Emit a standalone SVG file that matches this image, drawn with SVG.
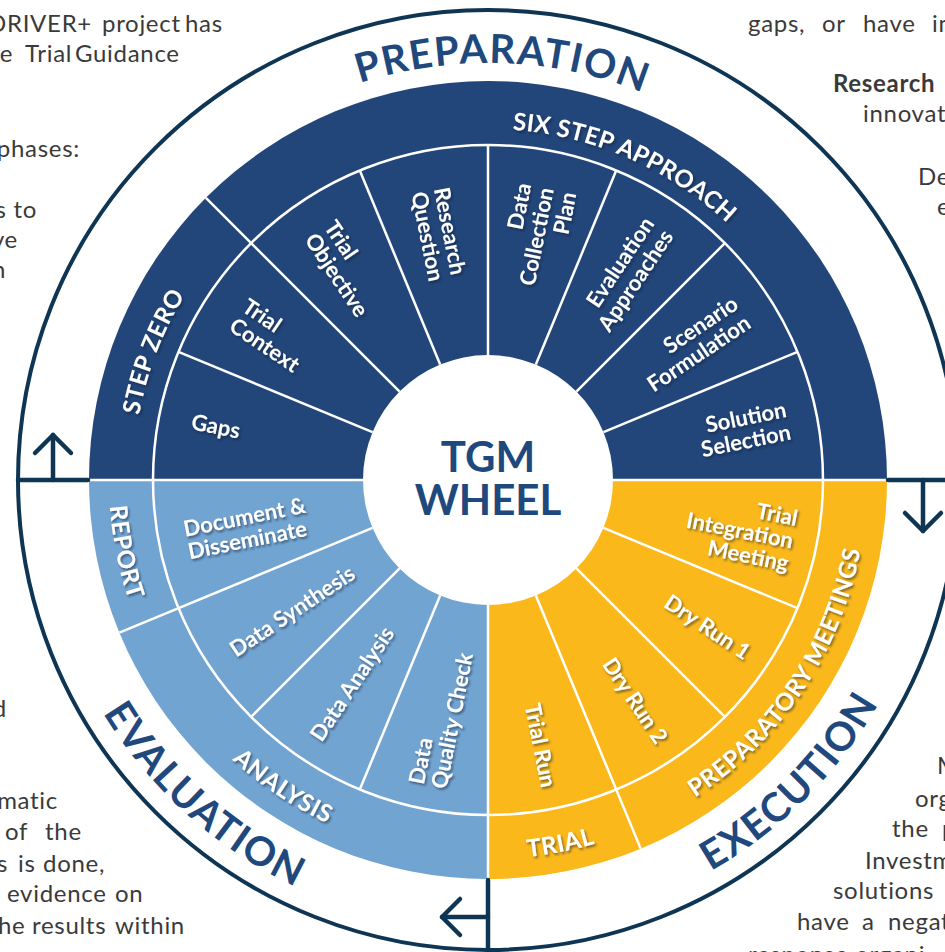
<svg xmlns="http://www.w3.org/2000/svg" width="945" height="952" viewBox="0 0 945 952">
<defs>
<style>
.body{font-family:Lato,"Liberation Sans",sans-serif;font-size:24px;fill:#3a3a3a;letter-spacing:0.7px}
.bb{font-weight:bold}
.lab{font-family:Lato,"Liberation Sans",sans-serif;font-size:22px;font-weight:bold;fill:#ffffff}
.band{font-family:Lato,"Liberation Sans",sans-serif;font-size:24px;font-weight:bold;fill:#ffffff;letter-spacing:0.6px}
.phase{font-family:Lato,"Liberation Sans",sans-serif;font-size:40px;font-weight:bold;fill:#1f497d;letter-spacing:1.5px}
.hub{font-family:Lato,"Liberation Sans",sans-serif;font-size:42px;font-weight:bold;fill:#1f497d}
.sep{stroke:#ffffff;stroke-width:2.5;fill:none}
.nav{stroke:#0e3553;stroke-width:4.5;fill:none;stroke-linecap:round;stroke-linejoin:round}
.end{text-anchor:end}
</style>
<filter id="sh" x="-30%" y="-30%" width="160%" height="160%">
<feDropShadow dx="1.5" dy="2" stdDeviation="1.3" flood-color="#0a1a30" flood-opacity="0.55"/>
</filter>
<path id="pSix" d="M 248.6 223.3 A 351 351 0 0 1 839 480"/>
<path id="pZero" d="M 133 480 A 355 355 0 0 1 224.2 242.5"/>
<path id="pTrial" d="M 488 859 A 379 379 0 0 0 633.04 830.15"/>
<path id="pPrepM" d="M 633.04 830.15 A 379 379 0 0 0 867 480"/>
<path id="pReport" d="M 109 480 A 379 379 0 0 0 137.85 625.04"/>
<path id="pAnalysis" d="M 137.85 625.04 A 379 379 0 0 0 488 859"/>
<path id="pPreparation" d="M 134.4 259 A 417 417 0 0 1 856.2 284.2"/>
<path id="pEvaluation" d="M 47.8 386.4 A 450 450 0 0 0 627.1 908"/>
<path id="pExecution" d="M 371.5 914.7 A 450 450 0 0 0 922.7 363.5"/>
</defs>

<g id="background-text" class="body">
<text y="32"><tspan x="92" class="end">DRIVER+</tspan></text>
<text y="32"><tspan x="102">project</tspan><tspan x="185">has</tspan></text>
<text y="62"><tspan x="13" class="end">e</tspan></text>
<text y="62"><tspan x="25">Trial</tspan><tspan x="75">Guidance</tspan></text>
<text x="80" y="157" class="end">phases:</text>
<text x="37" y="218" class="end">s to</text>
<text x="18" y="248" class="end">ve</text>
<text x="6" y="278" class="end">n</text>
<text x="7" y="717" class="end">d</text>
<text x="58" y="809" class="end">matic</text>
<text y="840"><tspan x="5">of</tspan><tspan x="45">the</tspan></text>
<text y="872"><tspan x="-3">s</tspan><tspan x="18">is</tspan><tspan x="43">done,</tspan></text>
<text y="902"><tspan x="7">evidence</tspan><tspan x="115">on</tspan></text>
<text y="934"><tspan x="-2">he</tspan><tspan x="32">results</tspan><tspan x="115">within</tspan></text>
<text y="32"><tspan x="748">gaps,</tspan><tspan x="822">or</tspan><tspan x="863">have</tspan><tspan x="932">in</tspan></text>
<text x="833" y="92" class="bb">Research</text>
<text x="863" y="122">innovat</text>
<text x="918" y="185">De</text>
<text x="937" y="215">e</text>
<text x="937" y="774">M</text>
<text x="915" y="807">org</text>
<text y="837"><tspan x="892">the</tspan><tspan x="942">p</tspan></text>
<text x="865" y="869">Investm</text>
<text x="833" y="899">solutions</text>
<text y="930"><tspan x="797">have</tspan><tspan x="862">a</tspan><tspan x="888">negat</tspan></text>
<text x="748" y="963">response organi</text>
</g>

<g id="outer-ring">
<circle cx="488" cy="480" r="470" fill="none" stroke="#0e3553" stroke-width="4"/>
</g>

<g id="preparation-phase">
<path d="M 89 480 A 399 399 0 0 1 887 480 Z" fill="#22467a"/>
</g>
<g id="execution-phase">
<path d="M 488 480 L 887 480 A 399 399 0 0 1 488 879 Z" fill="#fbb81b"/>
</g>
<g id="evaluation-phase">
<path d="M 488 480 L 488 879 A 399 399 0 0 1 89 480 Z" fill="#72a4d2"/>
</g>

<g id="connectors">
<g class="sep">
<circle cx="488" cy="480" r="335"/>
<line x1="613" y1="480" x2="888" y2="480"/>
<line x1="363" y1="480" x2="88" y2="480"/>
<line x1="488" y1="605" x2="488" y2="880"/>
<line x1="399.61" y1="391.61" x2="205.86" y2="197.86"/>
<line x1="372.51" y1="527.84" x2="119.37" y2="632.69"/>
<line x1="535.84" y1="595.49" x2="640.69" y2="848.63"/>
<line x1="603.49" y1="432.16" x2="797.50" y2="351.80"/>
<line x1="576.39" y1="391.61" x2="724.88" y2="243.12"/>
<line x1="535.84" y1="364.51" x2="616.20" y2="170.50"/>
<line x1="488" y1="355" x2="488" y2="145"/>
<line x1="440.16" y1="364.51" x2="359.80" y2="170.50"/>
<line x1="372.51" y1="432.16" x2="178.50" y2="351.80"/>
<line x1="399.61" y1="568.39" x2="251.12" y2="716.88"/>
<line x1="440.16" y1="595.49" x2="359.80" y2="789.50"/>
<line x1="576.39" y1="568.39" x2="724.88" y2="716.88"/>
<line x1="603.49" y1="527.84" x2="797.50" y2="608.20"/>
</g>
<g class="nav">
<line x1="18" y1="480" x2="88" y2="480"/>
<line x1="53" y1="480" x2="53" y2="435"/>
<polyline points="35,453 53,435 71,453"/>
<line x1="888" y1="480" x2="950" y2="480"/>
<line x1="923" y1="480" x2="923" y2="531"/>
<polyline points="905,513 923,531 941,513"/>
<line x1="488" y1="880" x2="488" y2="955"/>
<line x1="488" y1="917" x2="442" y2="917"/>
<polyline points="460,899 442,917 460,935"/>
</g>
</g>

<g id="hub">
<circle cx="488" cy="480" r="125" fill="#ffffff"/>
<text class="hub" x="488" y="472" text-anchor="middle">TGM</text>
<text class="hub" x="488" y="515" text-anchor="middle">WHEEL</text>
</g>

<g id="phase-labels">
<text class="phase"><textPath href="#pPreparation" startOffset="50%" text-anchor="middle">PREPARATION</textPath></text>
<text class="phase"><textPath href="#pEvaluation" startOffset="50%" text-anchor="middle">EVALUATION</textPath></text>
<text class="phase"><textPath href="#pExecution" startOffset="50%" text-anchor="middle">EXECUTION</textPath></text>
</g>

<g id="band-labels" filter="url(#sh)">
<text class="band" style="letter-spacing:0.3px"><textPath href="#pSix" startOffset="50%" text-anchor="middle">SIX STEP APPROACH</textPath></text>
<text class="band"><textPath href="#pZero" startOffset="50%" text-anchor="middle">STEP ZERO</textPath></text>
<text class="band"><textPath href="#pTrial" startOffset="50%" text-anchor="middle">TRIAL</textPath></text>
<text class="band"><textPath href="#pPrepM" startOffset="50%" text-anchor="middle">PREPARATORY MEETINGS</textPath></text>
<text class="band"><textPath href="#pReport" startOffset="50%" text-anchor="middle">REPORT</textPath></text>
<text class="band"><textPath href="#pAnalysis" startOffset="50%" text-anchor="middle">ANALYSIS</textPath></text>
</g>

<g id="gaps" filter="url(#sh)"><text class="lab" transform="translate(488 480) rotate(11.25)"><tspan x="-302" y="8">Gaps</tspan></text></g>
<g id="trial-context" filter="url(#sh)"><text class="lab" transform="translate(488 480) rotate(33.75)"><tspan x="-300" y="-3.5">Trial</tspan><tspan x="-300" y="19.5">Context</tspan></text></g>
<g id="trial-objective" filter="url(#sh)"><text class="lab" transform="translate(488 480) rotate(56.25)"><tspan x="-302" y="-3.5">Trial</tspan><tspan x="-302" y="19.5">Objective</tspan></text></g>
<g id="research-question" filter="url(#sh)"><text class="lab" transform="translate(488 480) rotate(78.75)"><tspan x="-296" y="-3.5">Research</tspan><tspan x="-296" y="19.5">Question</tspan></text></g>
<g id="data-collection-plan" filter="url(#sh)"><text class="lab end" transform="translate(488 480) rotate(-78.75)"><tspan x="298" y="-15">Data</tspan><tspan x="298" y="8">Collection</tspan><tspan x="298" y="31">Plan</tspan></text></g>
<g id="evaluation-approaches" filter="url(#sh)"><text class="lab end" transform="translate(488 480) rotate(-56.25)"><tspan x="306" y="-3.5">Evaluation</tspan><tspan x="306" y="19.5">Approaches</tspan></text></g>
<g id="scenario-formulation" filter="url(#sh)"><text class="lab end" transform="translate(488 480) rotate(-33.75)"><tspan x="305" y="-3.5">Scenario</tspan><tspan x="305" y="19.5">Formulation</tspan></text></g>
<g id="solution-selection" filter="url(#sh)"><text class="lab end" transform="translate(488 480) rotate(-11.25)"><tspan x="306" y="-3.5">Solution</tspan><tspan x="306" y="19.5">Selection</tspan></text></g>
<g id="trial-integration-meeting" filter="url(#sh)"><text class="lab end" transform="translate(488 480) rotate(11.25)"><tspan x="311" y="-15">Trial</tspan><tspan x="311" y="8">Integration</tspan><tspan x="311" y="31">Meeting</tspan></text></g>
<g id="dry-run-1" filter="url(#sh)"><text class="lab end" transform="translate(488 480) rotate(33.75)"><tspan x="313" y="8">Dry Run 1</tspan></text></g>
<g id="dry-run-2" filter="url(#sh)"><text class="lab end" transform="translate(488 480) rotate(56.25)"><tspan x="314" y="8">Dry Run 2</tspan></text></g>
<g id="trial-run" filter="url(#sh)"><text class="lab end" transform="translate(488 480) rotate(78.75)"><tspan x="313" y="8">Trial Run</tspan></text></g>
<g id="document-disseminate" filter="url(#sh)"><text class="lab" transform="translate(488 480) rotate(-11.25)"><tspan x="-308" y="-3.5">Document &amp;</tspan><tspan x="-308" y="19.5">Disseminate</tspan></text></g>
<g id="data-synthesis" filter="url(#sh)"><text class="lab" transform="translate(488 480) rotate(-33.75)"><tspan x="-308" y="8">Data Synthesis</tspan></text></g>
<g id="data-analysis" filter="url(#sh)"><text class="lab" transform="translate(488 480) rotate(-56.25)"><tspan x="-311" y="8">Data Analysis</tspan></text></g>
<g id="data-quality-check" filter="url(#sh)"><text class="lab" transform="translate(488 480) rotate(-78.75)"><tspan x="-312" y="-3.5">Data</tspan><tspan x="-312" y="19.5">Quality Check</tspan></text></g>
</svg>
